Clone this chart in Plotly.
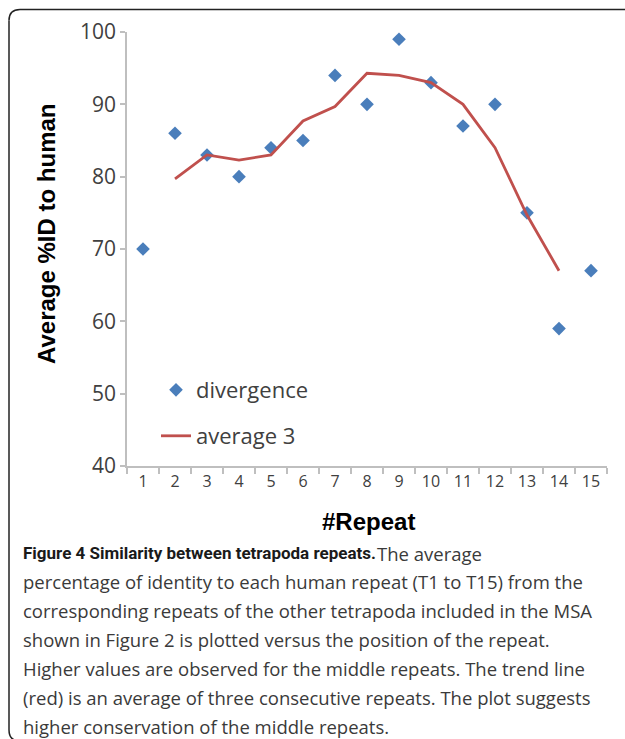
import plotly.graph_objects as go

# ---- data ----
repeats = ["1", "2", "3", "4", "5", "6", "7", "8", "9", "10", "11", "12", "13", "14", "15"]
divergence = [70, 86, 83, 80, 84, 85, 94, 90, 99, 93, 87, 90, 75, 59, 67]
avg_repeats = ["2", "3", "4", "5", "6", "7", "8", "9", "10", "11", "12", "13", "14"]
average3 = [79.7, 83.0, 82.3, 83.0, 87.7, 89.7, 94.3, 94.0, 93.0, 90.0, 84.0, 74.7, 67.0]
y_ticks = [40, 50, 60, 70, 80, 90, 100]

caption_bold = "Figure 4 Similarity between tetrapoda repeats."
caption_lines = [
    "The average",
    "percentage of identity to each human repeat (T1 to T15) from the",
    "corresponding repeats of the other tetrapoda included in the MSA",
    "shown in Figure 2 is plotted versus the position of the repeat.",
    "Higher values are observed for the middle repeats. The trend line",
    "(red) is an average of three consecutive repeats. The plot suggests",
    "higher conservation of the middle repeats.",
]

# ---- geometry (page pixels) ----
W, H = 625, 739
L, R, T, B = 127, 607, 32, 466   # plot area in page pixels


def px(x):
    return (x - L) / (R - L)


def py(y):
    return (B - y) / (B - T)


BLUE = "#4a7ebb"
RED = "#c0504d"
AXIS = "#bfbfbf"
TXT = "#404040"

fig = go.Figure()
fig.add_trace(go.Scatter(
    x=repeats, y=divergence, mode="markers", name="divergence",
    marker=dict(symbol="diamond", size=10.5, color=BLUE),
    legend="legend",
))
fig.add_trace(go.Scatter(
    x=avg_repeats, y=average3, mode="lines", name="average 3",
    line=dict(color=RED, width=2.8),
    legend="legend2",
))

fig.update_layout(
    width=W, height=H,
    margin=dict(l=L, r=W - R, t=T, b=H - B, pad=0),
    paper_bgcolor="white", plot_bgcolor="white",
    font=dict(family="Open Sans", color=TXT),
    showlegend=True,
    legend=dict(x=px(156), y=py(390), xanchor="left", yanchor="middle",
                font=dict(family="Open Sans", size=22, color=TXT),
                bgcolor="rgba(0,0,0,0)", borderwidth=0),
    legend2=dict(x=px(156), y=py(436), xanchor="left", yanchor="middle",
                 font=dict(family="Open Sans", size=22, color=TXT),
                 bgcolor="rgba(0,0,0,0)", borderwidth=0),
    xaxis=dict(
        type="category", categoryorder="array", categoryarray=repeats,
        tickson="boundaries", ticks="outside", ticklen=6, tickcolor=AXIS, tickwidth=1.5,
        showline=True, linecolor=AXIS, linewidth=1.5, showgrid=False, zeroline=False,
        tickfont=dict(family="Open Sans", size=16, color=TXT),
        range=[-0.5, 14.5],
    ),
    yaxis=dict(
        range=[40, 100], tickvals=y_ticks, ticks="outside", ticklen=5,
        tickcolor=AXIS, tickwidth=1.5,
        showline=True, linecolor=AXIS, linewidth=1.5, showgrid=False, zeroline=False,
        tickfont=dict(family="Open Sans", size=21, color=TXT),
    ),
)

annotations = [
    dict(text="<b>Average %ID to human</b>", x=px(46), y=py(234), xref="paper", yref="paper",
         textangle=-90, showarrow=False, xanchor="center", yanchor="middle",
         font=dict(family="Liberation Sans", size=24, color="black")),
    dict(text="<b>#Repeat</b>", x=px(368), y=py(521), xref="paper", yref="paper",
         showarrow=False, xanchor="center", yanchor="middle",
         font=dict(family="Liberation Sans", size=24, color="black")),
    dict(text="<b>" + caption_bold + "</b>", x=px(21), y=py(553), xref="paper", yref="paper",
         showarrow=False, xanchor="left", yanchor="middle", align="left",
         font=dict(family="Roboto", size=17, color="#1a1a1a")),
]
for i, line in enumerate(caption_lines):
    annotations.append(dict(
        text=line, x=px(375 if i == 0 else 21), y=py(553 + 28.9 * i), xref="paper", yref="paper",
        showarrow=False, xanchor="left", yanchor="middle", align="left",
        font=dict(family="Open Sans", size=18.5, color="#3a3a3a"),
    ))
fig.update_layout(annotations=annotations)

# rounded frame: top edge, left edge and the two left corners (right/bottom edges lie outside)
x0, y0, xr, yb, r = 9, 9.5, 625, 741, 11
frame = dict(color="#222222", width=1.5)
fig.add_shape(type="line", xref="paper", yref="paper",
              x0=px(x0 + r), y0=py(y0), x1=px(xr), y1=py(y0), line=frame)
fig.add_shape(type="line", xref="paper", yref="paper",
              x0=px(x0), y0=py(y0 + r), x1=px(x0), y1=py(yb - r), line=frame)
fig.add_shape(type="path", xref="paper", yref="paper", line=frame,
              path=f"M {px(x0)},{py(y0 + r)} Q {px(x0)},{py(y0)} {px(x0 + r)},{py(y0)}")
fig.add_shape(type="path", xref="paper", yref="paper", line=frame,
              path=f"M {px(x0)},{py(yb - r)} Q {px(x0)},{py(yb)} {px(x0 + r)},{py(yb)}")

fig.write_html(
    "out.html",
    config={"displayModeBar": False},
    post_script="document.body.style.margin='0';document.body.style.overflow='hidden';",
)
